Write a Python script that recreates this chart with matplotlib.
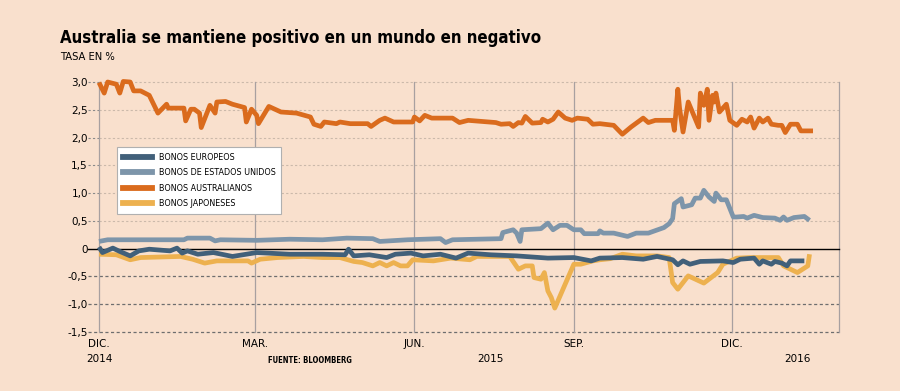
import matplotlib
matplotlib.use("Agg")
import matplotlib.pyplot as plt
from matplotlib.lines import Line2D
from matplotlib import font_manager as fm

# ---------------- data (x = days since 1 Dec 2014) ----------------
title = "Australia se mantiene positivo en un mundo en negativo"
subtitle = "TASA EN %"
source = "FUENTE: BLOOMBERG"

month_days = [0, 90, 182, 274, 365]
month_labels = ["DIC.", "MAR.", "JUN.", "SEP.", "DIC."]
year_labels = ["2014", "2015", "2016"]
year_days = [0, 226, 403]
x_end = 427

y_ticks = [3.0, 2.5, 2.0, 1.5, 1.0, 0.5, 0.0, -0.5, -1.0, -1.5]
y_tick_labels = ["3,0", "2,5", "2,0", "1,5", "1,0", "0,5", "0", "-0,5", "-1,0", "-1,5"]

series_names = ["BONOS EUROPEOS", "BONOS DE ESTADOS UNIDOS",
                "BONOS AUSTRALIANOS", "BONOS JAPONESES"]

aus_days = [0, 3, 5, 10, 12, 14, 18, 20, 24, 29, 34, 39, 40, 49, 50, 53, 55, 58, 59,
            64, 67, 68, 73, 77, 84, 85, 88, 91, 92, 98, 105, 114, 122, 124, 128, 130,
            137, 139, 145, 155, 157, 162, 165, 170, 181, 182, 185, 188, 192, 204, 208,
            213, 229, 232, 237, 239, 242, 244, 246, 250, 255, 256, 259, 262, 265, 269,
            273, 276, 282, 285, 289, 297, 302, 307, 314, 317, 321, 331, 332, 334, 335,
            337, 340, 342, 346, 347, 349, 351, 352, 354, 355, 356, 358, 362, 364, 368,
            371, 374, 376, 378, 381, 383, 386, 388, 392, 394, 396, 399, 403, 405, 412]
aus_vals = [2.99, 2.80, 3.00, 2.96, 2.80, 3.01, 3.00, 2.84, 2.84, 2.76, 2.44, 2.60, 2.53,
            2.53, 2.30, 2.51, 2.51, 2.44, 2.18, 2.58, 2.44, 2.64, 2.65, 2.60, 2.54, 2.28,
            2.51, 2.40, 2.25, 2.56, 2.46, 2.44, 2.37, 2.24, 2.20, 2.28, 2.25, 2.28, 2.25,
            2.25, 2.20, 2.31, 2.35, 2.28, 2.28, 2.37, 2.30, 2.40, 2.35, 2.35, 2.27, 2.31,
            2.27, 2.24, 2.25, 2.20, 2.27, 2.26, 2.38, 2.26, 2.27, 2.33, 2.28, 2.33, 2.46,
            2.35, 2.31, 2.35, 2.33, 2.24, 2.25, 2.22, 2.06, 2.19, 2.35, 2.27, 2.31, 2.31,
            2.13, 2.87, 2.53, 2.10, 2.64, 2.49, 2.19, 2.80, 2.58, 2.87, 2.31, 2.76, 2.64,
            2.80, 2.46, 2.60, 2.31, 2.22, 2.33, 2.28, 2.37, 2.17, 2.35, 2.28, 2.35, 2.24,
            2.22, 2.22, 2.09, 2.24, 2.24, 2.12, 2.12]

us_days = [0, 5, 49, 51, 64, 67, 70, 91, 110, 129, 143, 158, 162, 178, 197, 200, 204,
           232, 233, 239, 241, 243, 244, 255, 259, 262, 266, 270, 274, 278, 280, 288,
           289, 291, 297, 305, 310, 317, 326, 329, 331, 332, 336, 337, 342, 344, 347,
           349, 352, 355, 356, 359, 362, 366, 368, 372, 374, 378, 383, 390, 393, 395,
           397, 401, 407, 410]
us_vals = [0.13, 0.16, 0.16, 0.19, 0.19, 0.14, 0.16, 0.15, 0.17, 0.16, 0.19, 0.18, 0.13,
           0.16, 0.18, 0.11, 0.16, 0.18, 0.29, 0.34, 0.28, 0.13, 0.34, 0.36, 0.46, 0.34,
           0.42, 0.42, 0.34, 0.34, 0.27, 0.27, 0.32, 0.28, 0.28, 0.22, 0.28, 0.28, 0.38,
           0.45, 0.54, 0.81, 0.90, 0.75, 0.79, 0.91, 0.91, 1.05, 0.93, 0.85, 1.00, 0.88,
           0.88, 0.57, 0.57, 0.58, 0.55, 0.60, 0.56, 0.55, 0.51, 0.57, 0.51, 0.56, 0.58,
           0.51]

eu_days = [0, 2, 8, 12, 18, 23, 29, 41, 45, 48, 51, 57, 66, 77, 91, 110, 129, 142, 144,
           147, 156, 166, 171, 180, 187, 197, 206, 213, 226, 241, 259, 274, 284, 289, 302,
           314, 322, 331, 334, 337, 341, 347, 360, 366, 370, 378, 381, 383, 388, 390, 394,
           397, 399, 407]
eu_vals = [0.03, -0.07, 0.01, -0.05, -0.13, -0.04, -0.01, -0.04, 0.01, -0.08, -0.04, -0.10,
           -0.07, -0.14, -0.07, -0.10, -0.10, -0.11, -0.01, -0.13, -0.11, -0.16, -0.10,
           -0.08, -0.13, -0.10, -0.17, -0.08, -0.11, -0.13, -0.17, -0.16, -0.22, -0.17,
           -0.16, -0.19, -0.14, -0.20, -0.29, -0.22, -0.28, -0.23, -0.22, -0.25, -0.19,
           -0.17, -0.28, -0.22, -0.28, -0.23, -0.26, -0.31, -0.22, -0.22]

jp_days = [0, 10, 18, 24, 47, 54, 61, 68, 86, 88, 93, 103, 118, 129, 139, 147, 152, 158,
           162, 166, 170, 174, 178, 181, 193, 203, 214, 218, 237, 242, 246, 250, 251, 255,
           257, 259, 261, 263, 268, 274, 278, 285, 289, 295, 302, 310, 322, 329, 331, 334,
           340, 349, 357, 360, 368, 376, 392, 395, 403, 409, 410]
jp_vals = [-0.10, -0.11, -0.20, -0.16, -0.14, -0.19, -0.26, -0.22, -0.22, -0.26, -0.19,
           -0.16, -0.14, -0.16, -0.16, -0.23, -0.25, -0.31, -0.25, -0.31, -0.25, -0.31,
           -0.31, -0.20, -0.22, -0.17, -0.20, -0.14, -0.14, -0.37, -0.31, -0.31, -0.52,
           -0.55, -0.43, -0.76, -0.88, -1.07, -0.71, -0.28, -0.28, -0.22, -0.20, -0.18,
           -0.10, -0.13, -0.13, -0.16, -0.61, -0.73, -0.49, -0.62, -0.43, -0.28, -0.17,
           -0.16, -0.16, -0.31, -0.43, -0.31, -0.10]


# ---------------- narrow bold font lookup ----------------
def narrow_bold_font():
    prefs = ["liberationsansnarrow-bold", "dejavusanscondensed-bold",
             "robotocondensed-bold", "opensans_condensed-bold", "opensanscondensed-bold"]
    files = [f.fname for f in fm.fontManager.ttflist]
    low = [p.lower().replace(" ", "").split("/")[-1] for p in files]
    for pref in prefs:
        for p, l in zip(files, low):
            if l.startswith(pref) and "italic" not in l and "oblique" not in l:
                return p
    for p, l in zip(files, low):
        if ("narrow" in l or "condensed" in l) and "bold" in l and "italic" not in l \
                and "oblique" not in l:
            return p
    return None


nb_path = narrow_bold_font()


def nb_props(size, fallback_size):
    if nb_path:
        return fm.FontProperties(fname=nb_path, size=size)
    return fm.FontProperties(family="DejaVu Sans", weight="bold", size=fallback_size)


is_liberation = bool(nb_path) and "liberation" in nb_path.lower()

# ---------------- style ----------------
BG = "#f9e0cd"
C_EU = "#41607a"
C_US = "#7d95aa"
C_AU = "#da6b1d"
C_JP = "#edb14f"
LW = 3.4

fig = plt.figure(figsize=(9, 3.91), dpi=100, facecolor=BG)
W, H = 900, 391
ax_l, ax_r, ax_t, ax_b = 99, 839, 82, 332
ax = fig.add_axes([ax_l / W, 1 - ax_b / H, (ax_r - ax_l) / W, (ax_b - ax_t) / H])
ax.set_facecolor(BG)
ax.set_xlim(0, x_end)
ax.set_ylim(-1.5, 3.0)
for s in ax.spines.values():
    s.set_visible(False)

# horizontal grid lines (extend to the left as ticks)
ext = -11 / (ax_r - ax_l)
ytr = ax.get_yaxis_transform()
for v in y_ticks:
    if v > 0:
        ax.plot([0, 1], [v, v], transform=ytr, color="#cbb9aa", lw=0.8,
                ls=(0, (2, 2)), clip_on=False, zorder=1)
        ax.plot([ext, 0], [v, v], transform=ytr, color="#8a8a8a", lw=0.8,
                ls=(0, (2, 2)), clip_on=False, zorder=1)
    elif v < 0:
        ax.plot([ext, 1], [v, v], transform=ytr, color="#6e6e6e", lw=0.9,
                ls=(0, (2.5, 2)), clip_on=False, zorder=1)

# vertical grid lines
for d in month_days + [x_end]:
    ax.axvline(d, color="#a8a0a0", lw=0.9, zorder=1, clip_on=False)

# zero line
ax.plot([ext, 1], [0, 0], transform=ytr, color="black", lw=1.0, clip_on=False, zorder=2)

ax.set_yticks(y_ticks)
ax.set_yticklabels(y_tick_labels)
ax.tick_params(axis="y", length=0, pad=8, labelsize=7.5)
ax.set_xticks([])

kw = dict(lw=LW, solid_joinstyle="round", solid_capstyle="butt", clip_on=False)
ax.plot(jp_days, jp_vals, color=C_JP, zorder=3, **kw)
ax.plot(aus_days, aus_vals, color=C_AU, zorder=3, **kw)
ax.plot(us_days, us_vals, color=C_US, zorder=4, **kw)
ax.plot(eu_days, eu_vals, color=C_EU, zorder=5, **kw)

# x labels
xtr = ax.get_xaxis_transform()
for d, lab in zip(month_days, month_labels):
    ax.text(d, -(347 - ax_b) / (ax_b - ax_t), lab, transform=xtr, ha="center",
            va="baseline", fontsize=7.5)
for d, lab in zip(year_days, year_labels):
    ax.text(d, -(362 - ax_b) / (ax_b - ax_t), lab, transform=xtr, ha="center",
            va="baseline", fontsize=7.5)

fig.text(268 / W, 1 - 363 / H, source, ha="left", va="baseline",
         fontproperties=nb_props(6.3 if is_liberation else 5.5, 4.6))

fig.text(60 / W, 1 - 43 / H, title, ha="left", va="baseline",
         fontproperties=nb_props(14.5 if is_liberation else 12.1, 10.7))
fig.text(60 / W, 1 - 60 / H, subtitle, ha="left", va="baseline", fontsize=7.2)

# legend
handles = [Line2D([], [], color=c, lw=4.2) for c in (C_EU, C_US, C_AU, C_JP)]
leg = fig.legend(handles, series_names, loc="upper left",
                 bbox_to_anchor=(117 / W, 1 - 147 / H), fontsize=5.8,
                 frameon=True, fancybox=False, edgecolor="#b0b0b0", framealpha=1,
                 facecolor="white", handlelength=3.6, handletextpad=0.9,
                 labelspacing=0.8, borderpad=0.7, borderaxespad=0)
leg.get_frame().set_linewidth(0.8)

fig.savefig("out.png", dpi=100, facecolor=BG)
